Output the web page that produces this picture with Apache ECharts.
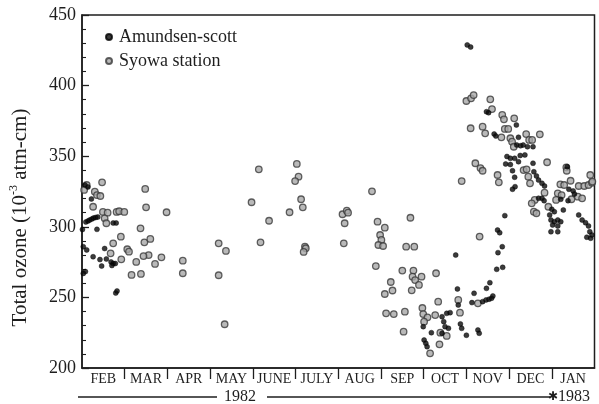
<!DOCTYPE html>
<html>
<head>
<meta charset="utf-8">
<script src="https://cdn.jsdelivr.net/npm/echarts@6/dist/echarts.min.js"></script>
<style>html,body{margin:0;padding:0;background:#fff}#c{width:599px;height:404px}</style>
</head>
<body>
<div id="c"></div>
<script>
// x = months since 1 Feb 1982, y = total ozone (10^-3 atm-cm)
const months = ['FEB','MAR','APR','MAY','JUNE','JULY','AUG','SEP','OCT','NOV','DEC','JAN'];
const yTicks = [200, 250, 300, 350, 400, 450];

const amundsenScott = [
 [0.07,329.6],[0.14,328.2],[0.22,319.7],[0.09,303.4],[0.14,304.1],[0.18,304.8],[0.23,305.5],[0.27,306.2],[0.32,306.6],[0.37,306.9],
 [0.73,302.7],[0.80,302.7],[0.35,298.2],[0.01,298.1],[0.03,285.9],[0.11,283.6],[0.26,278.8],[0.53,284.6],[0.42,276.8],[0.57,277.2],
 [0.68,275.1],[0.73,274.0],[0.78,274.0],[0.70,272.6],[0.46,272.2],[0.08,268.3],[0.03,267.0],[0.79,253.1],[0.82,254.5],
 [8.75,280.0],[8.79,256.0],[9.18,252.9],[8.81,244.6],[9.13,246.3],[7.99,229.3],[8.18,225.0],[8.43,236.3],[8.54,238.7],[8.62,239.2],
 [8.47,232.8],[8.50,229.3],[8.58,228.1],[8.43,224.6],[8.86,231.2],[8.89,228.1],[9.00,223.2],[9.27,226.9],[9.30,224.6],[8.01,219.8],
 [8.05,217.5],[8.08,215.1],[9.38,247.0],[9.46,248.2],[9.53,248.7],[9.59,249.4],[9.55,260.4],[9.47,256.4],[9.62,251.0],[9.71,269.9],
 [9.85,271.3],[9.74,281.7],[9.84,285.9],[9.73,297.7],[9.78,295.8],[9.90,307.9],
 [9.02,428.8],[9.10,427.3],[9.47,381.5],[9.52,380.8],[10.17,372.1],[9.65,365.7],[9.69,364.3],[10.22,363.4],[10.18,357.9],[10.27,357.4],
 [10.33,357.9],[10.43,356.7],[10.56,356.7],[9.95,349.8],[10.03,348.5],[10.13,348.5],[10.26,350.5],[10.37,350.9],[9.92,344.5],[10.03,344.1],
 [10.22,346.1],[10.56,345.0],[11.36,342.6],[10.08,339.7],[10.13,335.1],[10.58,339.0],[10.64,336.0],[10.69,333.1],[10.77,330.8],[10.83,328.9],
 [10.14,328.4],[10.08,326.6],[11.40,326.6],[11.50,325.4],[11.53,323.2],[10.77,320.2],[10.69,320.2],[10.82,318.5],[11.21,319.5],[11.38,318.5],
 [11.00,312.4],[11.06,310.7],[11.27,311.9],[10.95,308.4],[10.98,304.8],[11.06,303.6],[11.14,304.8],[11.21,303.6],[11.02,301.3],[11.14,300.6],
 [10.98,296.5],[11.14,296.5],[11.63,308.4],[11.71,304.8],[11.79,302.9],[11.86,300.6],[11.89,296.5],[11.82,292.6],[11.91,291.9],[11.94,294.2]
];

const syowaStation = [
 [0.47,331.5],[0.11,329.6],[0.05,326.1],[0.30,324.9],[0.35,322.5],[0.43,321.8],[0.26,314.2],[0.49,310.5],[0.60,310.0],[0.81,310.5],
 [0.87,311.0],[0.99,310.5],[0.53,306.0],[0.57,302.5],[1.48,326.8],[1.50,313.8],[1.98,310.3],[1.37,298.9],[0.91,293.0],[0.73,288.3],
 [1.46,289.0],[1.60,291.4],[1.06,284.1],[1.10,282.4],[0.67,281.2],[1.56,280.0],[1.44,279.3],[1.86,278.4],[0.92,277.0],[1.27,275.1],
 [1.71,273.7],[1.16,265.9],[1.38,266.6],
 [2.36,276.0],[2.36,267.1],
 [3.20,288.3],[3.37,282.9],[3.20,265.7],[3.34,231.0],
 [3.97,317.4],[4.14,340.7],[4.18,289.0],[4.38,304.3],[4.86,310.3],
 [5.03,344.5],[5.07,335.5],[4.99,332.4],[5.13,319.5],[5.17,313.8],[5.22,285.9],[5.24,284.8],[5.19,282.2],
 [6.10,308.9],[6.20,311.4],[6.23,310.0],[6.15,302.5],[6.13,288.3],[6.79,325.1],
 [6.92,303.6],[7.09,299.4],[6.98,294.2],[7.01,290.7],[6.94,287.1],[7.05,286.4],[7.69,306.4],[7.59,285.9],[7.78,285.9],[6.88,272.2],
 [7.50,269.0],[7.76,269.0],[7.74,264.7],[7.80,262.3],[7.95,264.7],[7.23,260.9],[7.89,258.8],[7.27,254.9],[7.72,255.0],[7.09,252.4],
 [8.29,267.1],[8.34,247.0],[7.12,238.7],[7.30,238.2],[7.56,239.9],[7.97,242.5],[7.99,238.2],[8.09,235.9],[8.27,237.5],[8.01,232.8],
 [7.53,225.7],[8.39,225.0],[8.54,222.7],[8.37,216.8],[8.15,210.4],[8.81,248.2],[8.85,239.2],[9.27,245.8],[8.89,332.4],[9.31,293.1],
 [9.00,389.1],[9.11,391.0],[9.17,393.3],[9.56,390.3],[9.60,383.4],[9.84,379.2],[9.88,376.1],[10.12,376.8],[9.10,369.8],[9.38,370.9],
 [9.44,366.2],[9.82,363.4],[9.90,369.3],[9.98,369.3],[10.40,365.7],[10.72,365.5],[10.03,362.7],[10.07,360.3],[10.47,361.5],[10.54,361.5],
 [10.11,356.7],[10.89,345.7],[9.21,345.0],[9.33,341.6],[9.38,339.7],[9.73,336.7],[9.76,331.5],[10.34,340.2],[10.41,340.7],[10.45,335.5],
 [10.49,330.8],[11.34,342.1],[11.35,339.7],[11.44,332.6],[11.20,330.1],[11.29,329.6],[11.63,328.9],[11.76,328.9],[11.86,329.6],[11.94,331.2],
 [11.61,321.3],[11.71,320.2],[10.83,324.2],[10.60,319.0],[10.53,316.6],[11.14,323.7],[11.23,322.5],[11.10,319.0],[11.46,319.5],[10.92,314.2],
 [10.58,310.7],[10.64,309.6],[11.90,336.7],[11.95,332.0]
];

const FONT = '"Liberation Serif", "Times New Roman", serif';
const INK = '#1e1e1e';

const chart = echarts.init(document.getElementById('c'), null, {renderer: 'canvas'});
const monthBounds = months.slice(1).map((m, i) => i + 1);
const monthCentres = months.map((m, i) => i + 0.5);

chart.setOption({
  animation: false,
  backgroundColor: '#fff',
  grid: {left: 72, right: 4.5, top: 15, bottom: 36, show: true, borderColor: INK, borderWidth: 1.5, backgroundColor: 'transparent'},
  legend: {
    orient: 'vertical', left: 100, top: 23, itemWidth: 6, itemHeight: 6, itemGap: 6,
    icon: 'circle',
    textStyle: {fontFamily: FONT, fontSize: 18, color: INK, padding: [0, 0, 0, 2]},
    data: ['Amundsen-scott', 'Syowa station']
  },
  xAxis: {
    type: 'value', min: 0, max: 12, interval: 1,
    axisLine: {show: true, lineStyle: {color: INK, width: 1.5}},
    splitLine: {show: false},
    axisTick: {show: true, customValues: monthBounds, length: 11, lineStyle: {color: INK, width: 1.3}},
    axisLabel: {
      customValues: monthCentres, margin: 4,
      fontFamily: FONT, fontSize: 14, color: INK,
      formatter: v => months[Math.floor(v)]
    }
  },
  yAxis: {
    type: 'value', min: yTicks[0], max: yTicks[yTicks.length - 1], interval: 50,
    name: '{a|Total ozone (10}{s|-3}{a| atm-cm)}',
    nameLocation: 'middle', nameGap: 50, nameRotate: 90,
    nameTextStyle: {
      padding: [0, 52, 0, 0],
      rich: {
        a: {fontFamily: FONT, fontSize: 21, color: INK, lineHeight: 24},
        s: {fontFamily: FONT, fontSize: 12, color: INK, lineHeight: 24, verticalAlign: 'top'}
      }
    },
    axisLine: {show: true, lineStyle: {color: INK, width: 1.5}},
    splitLine: {show: false},
    axisTick: {show: true, inside: true, length: 7, lineStyle: {color: INK, width: 1.3}},
    minorTick: {show: true, splitNumber: 5, length: 4, lineStyle: {color: INK, width: 1.1}},
    axisLabel: {fontFamily: FONT, fontSize: 18, color: INK, margin: 6}
  },
  series: [
    {
      name: 'Amundsen-scott', type: 'scatter', data: amundsenScott, z: 3,
      symbol: 'circle', symbolSize: 5,
      itemStyle: {color: '#0a0a0a', borderColor: '#000', borderWidth: 0.5}
    },
    {
      name: 'Syowa station', type: 'scatter', data: syowaStation, z: 2,
      symbol: 'circle', symbolSize: 6.5,
      itemStyle: {color: '#a8a8a8', borderColor: '#3a3a3a', borderWidth: 1.3}
    }
  ],
  graphic: [
    {type: 'line', shape: {x1: 78, y1: 397, x2: 217, y2: 397}, style: {stroke: INK, lineWidth: 1.5}},
    {type: 'text', x: 240, y: 397, style: {text: '1982', font: '16px ' + FONT, fill: INK, align: 'center', verticalAlign: 'middle'}},
    {type: 'line', shape: {x1: 267, y1: 397, x2: 550, y2: 397}, style: {stroke: INK, lineWidth: 1.5}},
    {type: 'text', x: 553, y: 397, style: {text: '✱', font: 'bold 12px "DejaVu Sans"', fill: INK, align: 'center', verticalAlign: 'middle'}},
    {type: 'text', x: 558, y: 397, style: {text: '1983', font: '16px ' + FONT, fill: INK, align: 'left', verticalAlign: 'middle'}}
  ]
});
</script>
</body>
</html>
